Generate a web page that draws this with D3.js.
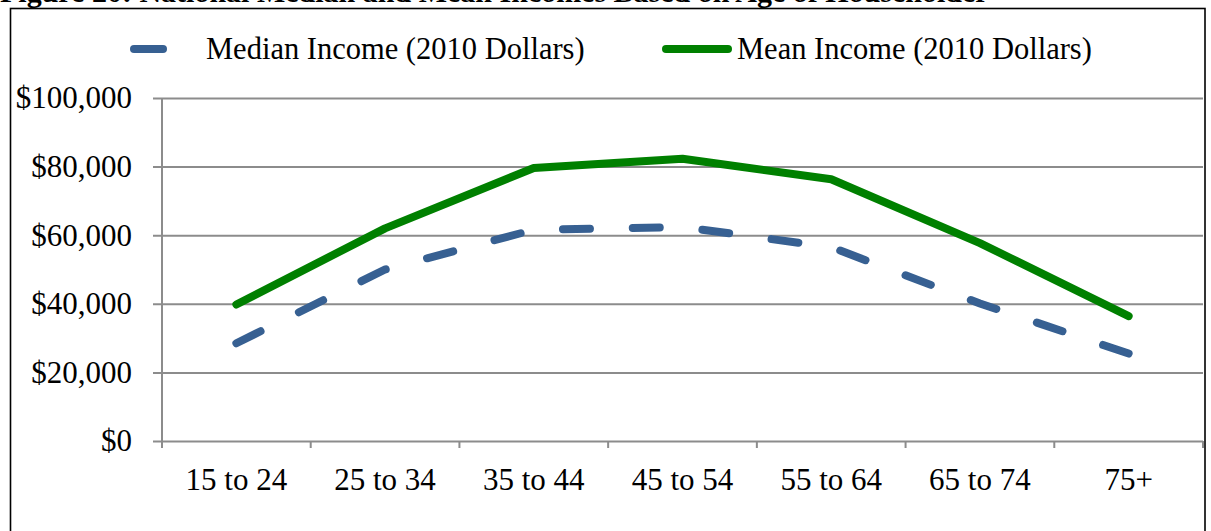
<!DOCTYPE html>
<html>
<head>
<meta charset="utf-8">
<script src="https://cdn.jsdelivr.net/npm/d3@7"></script>
<style>
  html, body { margin: 0; padding: 0; background: #fff; }
  svg { display: block; font-family: "Liberation Serif", "Times New Roman", serif; }
</style>
</head>
<body>
<svg id="chart" width="1211" height="531"></svg>
<script>
const TITLE = "Figure 20: National Median and Mean Incomes Based on Age of Householder";
const AGE_GROUPS = ["15 to 24", "25 to 34", "35 to 44", "45 to 54", "55 to 64", "65 to 74", "75+"];
const MEDIAN_INCOME = [28500, 50000, 61600, 62400, 56500, 40100, 25500];
const MEAN_INCOME = [39800, 62000, 79600, 82300, 76300, 57700, 36400];
const Y_TICKS = [0, 20000, 40000, 60000, 80000, 100000];

const svg = d3.select("#chart");
const margin = { top: 98, right: 8, bottom: 90, left: 162 };
const width = 1211;
const height = 531;

// figure caption, clipped by the top of the page like in the source
svg.append("text")
  .attr("x", 0)
  .attr("y", 2)
  .attr("font-weight", "bold")
  .attr("font-size", 30)
  .text(TITLE);

// frame
svg.append("rect")
  .attr("x", 10.5)
  .attr("y", 8.5)
  .attr("width", 1194.5)
  .attr("height", 600)
  .attr("fill", "none")
  .attr("stroke", "#000")
  .attr("stroke-width", 1.6);

const x = d3.scaleBand()
  .domain(AGE_GROUPS)
  .range([margin.left, width - margin.right])
  .padding(0);

const y = d3.scaleLinear()
  .domain([0, 100000])
  .range([height - margin.bottom, margin.top]);

const grey = "#8c8c8c";

// gridlines + y axis labels
const yAxis = svg.append("g")
  .attr("transform", `translate(${margin.left},0)`)
  .call(d3.axisLeft(y)
    .tickValues(Y_TICKS)
    .tickSize(-(width - margin.right - margin.left))
    .tickPadding(30)
    .tickFormat((d) => "$" + d3.format(",")(d)));
yAxis.select(".domain").remove();
yAxis.selectAll(".tick line")
  .attr("x1", -9)
  .attr("stroke", grey)
  .attr("stroke-width", 2);
yAxis.selectAll(".tick text")
  .attr("font-size", 31)
  .attr("fill", "#000")
  .attr("font-family", "Liberation Serif, Times New Roman, serif");

// vertical axis line
svg.append("line")
  .attr("x1", margin.left).attr("x2", margin.left)
  .attr("y1", y(100000)).attr("y2", y(0) + 7)
  .attr("stroke", grey)
  .attr("stroke-width", 2);

// x axis
const xAxis = svg.append("g")
  .attr("transform", `translate(0,${y(0)})`)
  .call(d3.axisBottom(x).tickSize(0).tickPadding(27));
xAxis.select(".domain").remove();
xAxis.selectAll(".tick text")
  .attr("font-size", 31)
  .attr("fill", "#000")
  .attr("font-family", "Liberation Serif, Times New Roman, serif");

const boundaries = AGE_GROUPS.map((d) => x(d)).concat([x.range()[1]]);
xAxis.selectAll(".cat-tick")
  .data(boundaries)
  .join("line")
  .attr("class", "cat-tick")
  .attr("x1", (d) => d).attr("x2", (d) => d)
  .attr("y1", 0).attr("y2", 7)
  .attr("stroke", grey)
  .attr("stroke-width", 2);

const cx = (i) => x(AGE_GROUPS[i]) + x.bandwidth() / 2;
const line = d3.line()
  .x((d, i) => cx(i))
  .y((d) => y(d));

svg.append("path")
  .datum(MEAN_INCOME)
  .attr("d", line)
  .attr("fill", "none")
  .attr("stroke", "#008000")
  .attr("stroke-width", 8)
  .attr("stroke-linejoin", "round")
  .attr("stroke-linecap", "round");

const medianPath = svg.append("path")
  .datum(MEDIAN_INCOME)
  .attr("d", line)
  .attr("fill", "none")
  .attr("stroke", "#376092")
  .attr("stroke-width", 8)
  .attr("stroke-linecap", "round");

// stretch the dash period a touch so the line starts and ends on a dash
const dashLen = 27;
const total = medianPath.node().getTotalLength();
const n = Math.round((total - dashLen) / 68);
const period = (total - dashLen) / n;
medianPath.attr("stroke-dasharray", `${dashLen},${period - dashLen}`);

// legend
const legend = svg.append("g").attr("font-size", 30.5);
legend.append("line")
  .attr("x1", 134).attr("x2", 163)
  .attr("y1", 49).attr("y2", 49)
  .attr("stroke", "#376092")
  .attr("stroke-width", 8)
  .attr("stroke-linecap", "round");
legend.append("text")
  .attr("x", 206)
  .attr("y", 59)
  .text("Median Income (2010 Dollars)");
legend.append("line")
  .attr("x1", 666).attr("x2", 728)
  .attr("y1", 49).attr("y2", 49)
  .attr("stroke", "#008000")
  .attr("stroke-width", 8)
  .attr("stroke-linecap", "round");
legend.append("text")
  .attr("x", 737)
  .attr("y", 59)
  .text("Mean Income (2010 Dollars)");
</script>
</body>
</html>
